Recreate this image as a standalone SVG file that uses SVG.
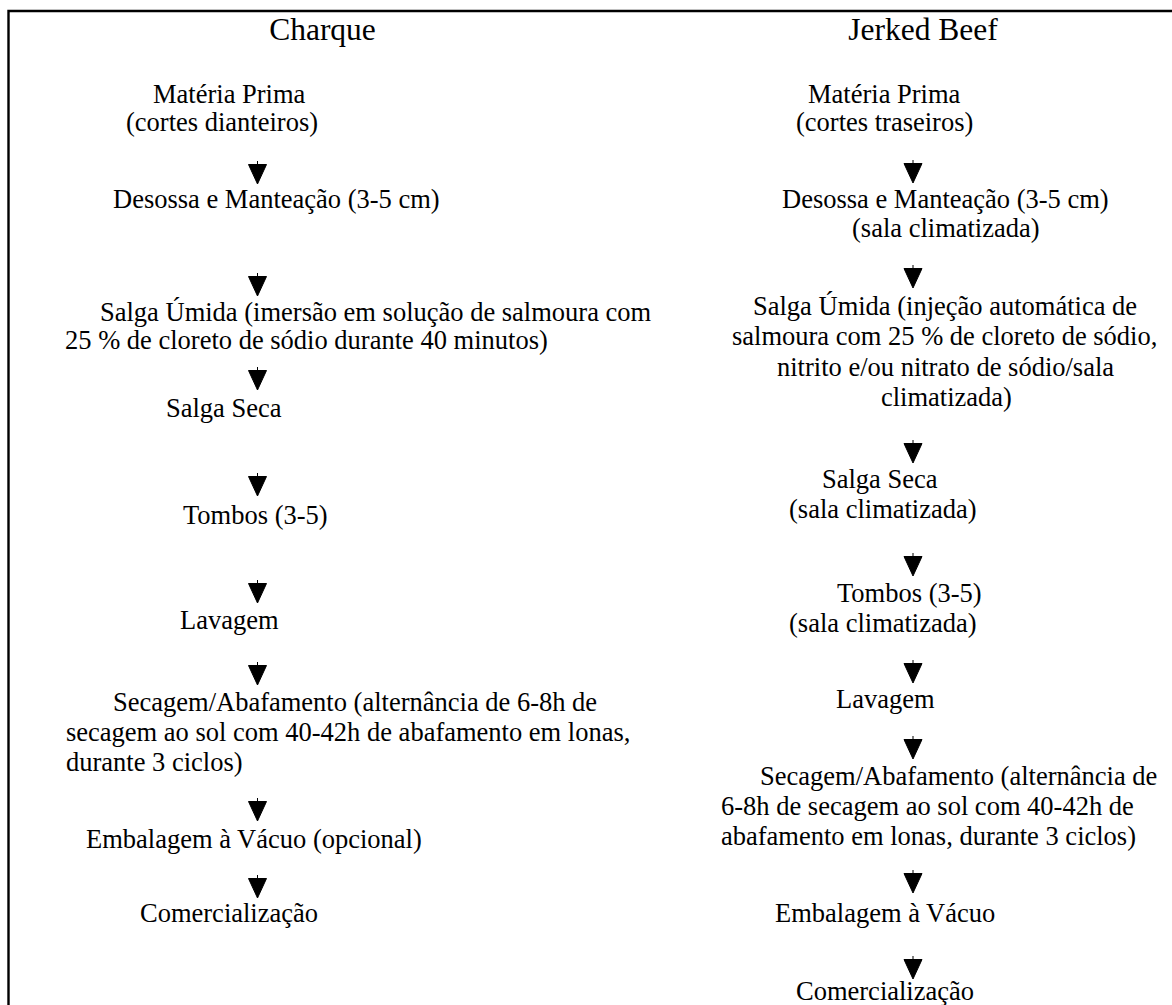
<svg xmlns="http://www.w3.org/2000/svg" width="1172" height="1005" viewBox="0 0 1172 1005">
<style>
  text { font-family: "Liberation Serif", "Times New Roman", serif; fill: #000; }
  .t { font-size: 26.5px; }
  .h { font-size: 31.5px; text-anchor: middle; }
  .arr { fill: #000; stroke: #000; stroke-width: 1; }
  .frame { stroke: #000; stroke-width: 2.4; fill: none; }
</style>
<rect width="1172" height="1005" fill="#fff"/>
<g id="frame">
  <path class="frame" d="M8.5 1005 V11 H1172"/>
</g>
<g id="titles">
  <text class="h" x="322.5" y="39.5">Charque</text>
  <text class="h" x="923" y="39.5">Jerked Beef</text>
</g>
<g id="charque">
  <g id="c1"><text class="t" x="153" y="103">Matéria Prima</text><text class="t" x="126" y="131">(cortes dianteiros)</text></g>
  <g id="c2"><text class="t" x="113" y="208">Desossa e Manteação (3-5 cm)</text></g>
  <g id="c3"><text class="t" x="100" y="321">Salga Úmida (imersão em solução de salmoura com</text><text class="t" x="65" y="349">25 % de cloreto de sódio durante 40 minutos)</text></g>
  <g id="c4"><text class="t" x="166" y="417">Salga Seca</text></g>
  <g id="c5"><text class="t" x="183" y="524">Tombos (3-5)</text></g>
  <g id="c6"><text class="t" x="180" y="629">Lavagem</text></g>
  <g id="c7"><text class="t" x="113" y="711">Secagem/Abafamento (alternância de 6-8h de</text><text class="t" x="66" y="741">secagem ao sol com 40-42h de abafamento em lonas,</text><text class="t" x="66" y="771">durante 3 ciclos)</text></g>
  <g id="c8"><text class="t" x="86" y="848">Embalagem à Vácuo (opcional)</text></g>
  <g id="c9"><text class="t" x="140" y="922">Comercialização</text></g>
</g>
<g id="jerked">
  <g id="j1"><text class="t" x="808" y="103">Matéria Prima</text><text class="t" x="796" y="131">(cortes traseiros)</text></g>
  <g id="j2"><text class="t" x="782" y="208">Desossa e Manteação (3-5 cm)</text><text class="t" x="852" y="237">(sala climatizada)</text></g>
  <g id="j3"><text class="t" x="753" y="315">Salga Úmida (injeção automática de</text><text class="t" x="732" y="345">salmoura com 25 % de cloreto de sódio,</text><text class="t" x="777" y="376">nitrito e/ou nitrato de sódio/sala</text><text class="t" x="881" y="406">climatizada)</text></g>
  <g id="j4"><text class="t" x="822" y="488">Salga Seca</text><text class="t" x="789" y="518">(sala climatizada)</text></g>
  <g id="j5"><text class="t" x="837" y="602">Tombos (3-5)</text><text class="t" x="789" y="632">(sala climatizada)</text></g>
  <g id="j6"><text class="t" x="836" y="708">Lavagem</text></g>
  <g id="j7"><text class="t" x="760" y="785">Secagem/Abafamento (alternância de</text><text class="t" x="721" y="815">6-8h de secagem ao sol com 40-42h de</text><text class="t" x="721" y="845">abafamento em lonas, durante 3 ciclos)</text></g>
  <g id="j8"><text class="t" x="775" y="922">Embalagem à Vácuo</text></g>
  <g id="j9"><text class="t" x="796" y="1000">Comercialização</text></g>
</g>
<g id="connectors">
  <path class="arr" d="M257.5 161 V165 M248.5 164.5 H266.5 L257.5 184 Z"/>
  <path class="arr" d="M257.5 273 V277 M248.5 276.5 H266.5 L257.5 296 Z"/>
  <path class="arr" d="M257.5 367 V371 M248.5 370.5 H266.5 L257.5 390 Z"/>
  <path class="arr" d="M257.5 473 V477 M248.5 476.5 H266.5 L257.5 496 Z"/>
  <path class="arr" d="M257.5 580 V584 M248.5 583.5 H266.5 L257.5 603 Z"/>
  <path class="arr" d="M257.5 662 V666 M248.5 665.5 H266.5 L257.5 685 Z"/>
  <path class="arr" d="M257.5 798 V802 M248.5 801.5 H266.5 L257.5 821 Z"/>
  <path class="arr" d="M257.5 875 V879 M248.5 878.5 H266.5 L257.5 898 Z"/>
  <path class="arr" d="M913 160 V164 M904 163.5 H922 L913 183 Z"/>
  <path class="arr" d="M913 265 V269 M904 268.5 H922 L913 288 Z"/>
  <path class="arr" d="M913 440 V444 M904 443.5 H922 L913 463 Z"/>
  <path class="arr" d="M913 553 V557 M904 556.5 H922 L913 576 Z"/>
  <path class="arr" d="M913 660 V664 M904 663.5 H922 L913 683 Z"/>
  <path class="arr" d="M913 736 V740 M904 739.5 H922 L913 759 Z"/>
  <path class="arr" d="M913 870 V874 M904 873.5 H922 L913 893 Z"/>
  <path class="arr" d="M913 956 V960 M904 959.5 H922 L913 979 Z"/>
</g>
</svg>
